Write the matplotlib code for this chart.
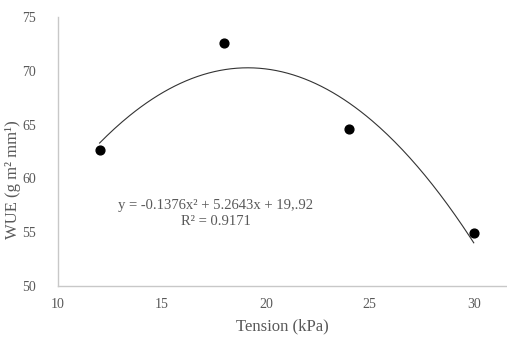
import numpy as np
import matplotlib
matplotlib.use("Agg")
import matplotlib.pyplot as plt

# Observed WUE at each soil water tension
tension = [12, 18, 24, 30]
wue = [62.6, 72.6, 64.6, 54.9]

# Quadratic trendline coefficients as printed on the chart
trend_coef = [-0.1376, 5.2643, 19.92]
eq_text = "y = -0.1376x\u00b2 + 5.2643x + 19,.92"
r2_text = "R\u00b2 = 0.9171"

x_ticks = [10, 15, 20, 25, 30]
y_ticks = [50, 55, 60, 65, 70, 75]

plt.rcParams['font.family'] = ['Liberation Serif', 'DejaVu Serif']
grey = '#595959'

fig = plt.figure(figsize=(5.07, 3.38), dpi=100)
ax = fig.add_axes([0.1144, 0.154, 0.8856, 0.796])

# Trendline drawn only over the range of the data
xs = np.linspace(min(tension), max(tension), 200)
ax.plot(xs, np.polyval(trend_coef, xs), color='#333333', linewidth=0.8)

ax.scatter(tension, wue, s=40, color='black', zorder=3)

ax.set_xlim(10, 31.6)
ax.set_ylim(50, 75)
ax.set_xticks(x_ticks)
ax.set_yticks(y_ticks)
ax.tick_params(length=0, labelsize=10, colors=grey)
ax.tick_params(axis='x', pad=9)
ax.tick_params(axis='y', pad=16)

for side in ['top', 'right']:
    ax.spines[side].set_visible(False)
for side in ['left', 'bottom']:
    ax.spines[side].set_color('#c8c8c8')
    ax.spines[side].set_linewidth(1)

ax.set_xlabel("Tension (kPa)", fontsize=12, color=grey, labelpad=5)
ax.set_ylabel("WUE (g m\u00b2 mm\u00b9)", fontsize=12, color=grey)
# the y title sits a little below the middle of the axis in the original
ax.yaxis.set_label_coords(-0.082, 0.394)

ax.text(17.6, 57.45, eq_text, fontsize=10.5, color=grey, ha='center', va='center')
ax.text(17.6, 55.95, r2_text, fontsize=10.5, color=grey, ha='center', va='center')

fig.savefig("out.png", dpi=100)
